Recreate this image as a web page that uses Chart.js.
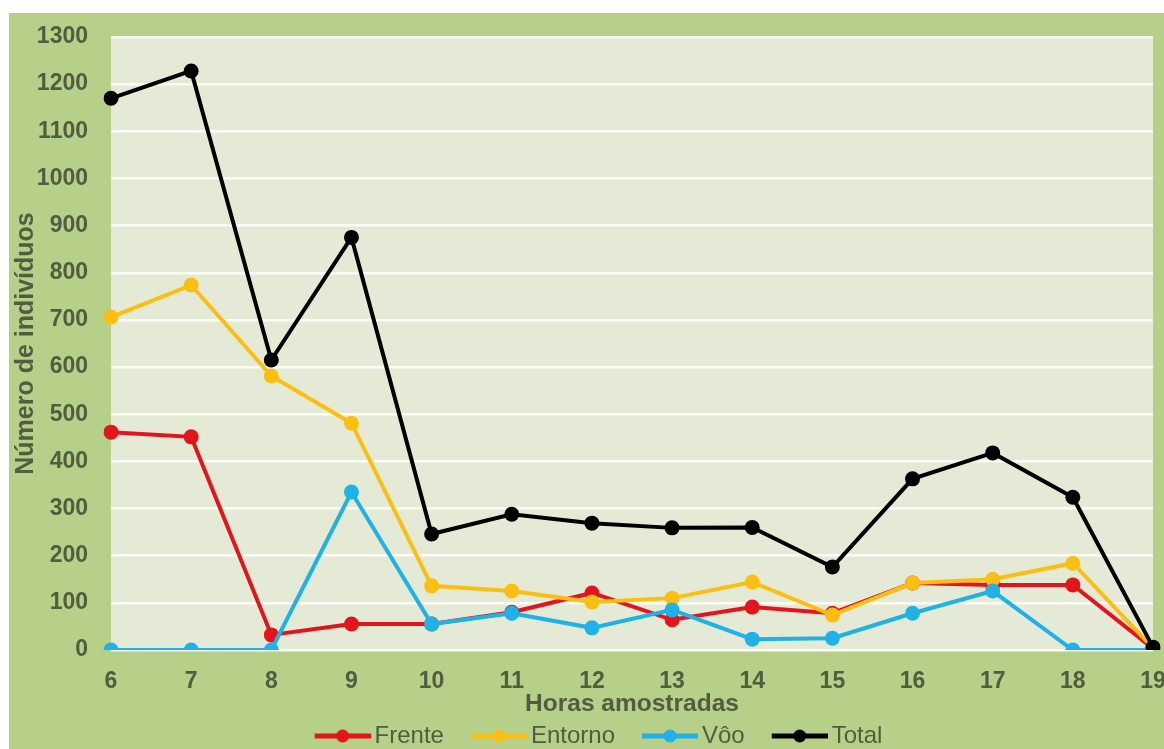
<!DOCTYPE html>
<html>
<head>
<meta charset="utf-8">
<script src="https://cdn.jsdelivr.net/npm/chart.js@4/dist/chart.umd.min.js"></script>
<style>
  html, body { margin: 0; padding: 0; background: #ffffff; }
  #wrap { position: absolute; left: 9px; top: 13px; width: 1155px; height: 736px; background: #b6cf89; }
</style>
</head>
<body>
<div id="wrap"><canvas id="chart" width="1155" height="736"></canvas></div>
<script>
// Horas amostradas
const horas = ["6", "7", "8", "9", "10", "11", "12", "13", "14", "15", "16", "17", "18", "19"];

// Número de indivíduos por hora
const frente  = [462, 452, 32, 55, 55, 80, 121, 64, 91, 78, 142, 138, 138, 3];
const entorno = [706, 774, 581, 481, 136, 125, 102, 110, 144, 74, 142, 150, 184, 4];
const voo     = [0, 0, 0, 335, 55, 78, 47, 85, 23, 25, 78, 125, 0, 0];
const total   = [1170, 1228, 615, 875, 246, 288, 269, 259, 260, 176, 363, 418, 324, 6];

const yTicks = [0, 1300, 100]; // min, max, passo

const textColor = "#505d3e";
const font = "'Liberation Sans', Arial, sans-serif";

// marcador da legenda: linha com ponto no meio
function legendMarker(color) {
  const c = document.createElement("canvas");
  c.width = 89; c.height = 16;
  const ctx = c.getContext("2d");
  ctx.strokeStyle = color;
  ctx.lineWidth = 5;
  ctx.beginPath();
  ctx.moveTo(33, 8); ctx.lineTo(89, 8);
  ctx.stroke();
  ctx.fillStyle = color;
  ctx.beginPath();
  ctx.arc(61, 8, 6.5, 0, Math.PI * 2);
  ctx.fill();
  return c;
}

function serie(label, data, color, order) {
  return {
    label: label,
    data: data,
    borderColor: color,
    backgroundColor: color,
    borderWidth: 4,
    pointRadius: 7.5,
    pointHoverRadius: 7.5,
    pointBorderWidth: 0,
    pointStyle: "circle",
    tension: 0,
    order: order
  };
}

const plotBg = {
  id: "plotBg",
  beforeDraw(chart) {
    const a = chart.chartArea;
    const ctx = chart.ctx;
    ctx.save();
    ctx.fillStyle = "#e5ead7";
    ctx.fillRect(a.left, a.top, a.right - a.left, a.bottom - a.top);
    ctx.restore();
  }
};

// a legenda do original fica um pouco à direita do centro
const legendShift = {
  id: "legendShift",
  afterLayout(chart) {
    chart.legend.left += 5;
    chart.legend.right += 5;
  }
};

new Chart(document.getElementById("chart"), {
  type: "line",
  data: {
    labels: horas,
    datasets: [
      serie("Frente", frente, "#e3141b", 4),
      serie("Entorno", entorno, "#fbbf14", 3),
      serie("Vôo", voo, "#1fb2e8", 2),
      serie("Total", total, "#000000", 1)
    ]
  },
  options: {
    responsive: false,
    animation: false,
    layout: { padding: { left: 0, top: 24, right: 11, bottom: -9 } },
    plugins: {
      tooltip: { enabled: false },
      legend: {
        position: "bottom",
        labels: {
          usePointStyle: true,
          pointStyleWidth: 73,
          padding: 2,
          color: textColor,
          font: { family: font, size: 24 },
          generateLabels(chart) {
            return chart.data.datasets.map((ds, i) => ({
              text: ds.label,
              fillStyle: ds.borderColor,
              strokeStyle: ds.borderColor,
              lineWidth: 0,
              pointStyle: legendMarker(ds.borderColor),
              fontColor: textColor,
              datasetIndex: i,
              hidden: false
            }));
          }
        }
      }
    },
    scales: {
      x: {
        offset: false,
        grid: { display: false, drawTicks: false },
        border: { display: false },
        ticks: { color: textColor, padding: 18, font: { family: font, size: 23, weight: "bold" } },
        title: {
          display: true,
          text: "Horas amostradas",
          color: textColor,
          font: { family: font, size: 24.5, weight: "bold" },
          padding: { top: 0, bottom: 3 }
        },
        afterFit(scale) {
          scale.height = 72;
          scale.paddingLeft = 0;
          scale.paddingRight = 0;
        }
      },
      y: {
        min: yTicks[0],
        max: yTicks[1],
        grid: { color: "#fbfcf6", lineWidth: 2.5, drawTicks: false },
        border: { display: false },
        ticks: {
          stepSize: yTicks[2],
          color: textColor,
          padding: 23,
          font: { family: font, size: 23, weight: "bold" },
          callback: v => String(v)
        },
        title: {
          display: true,
          text: "Número de indivíduos",
          color: textColor,
          font: { family: font, size: 25, weight: "bold" },
          padding: { top: 2, bottom: 0 }
        },
        afterFit(scale) {
          scale.width = 102;
          scale.paddingTop = 0;
          scale.paddingBottom = 0;
        }
      }
    }
  },
  plugins: [plotBg, legendShift]
});
</script>
</body>
</html>
